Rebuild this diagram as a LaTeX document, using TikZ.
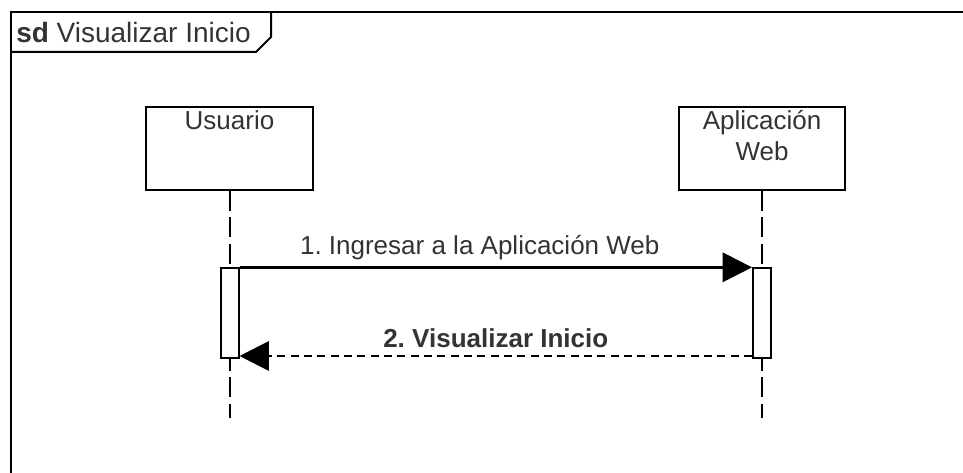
\documentclass[tikz,border=0pt]{standalone}
\usepackage{fontspec}
\setmainfont{Liberation Sans}
\usetikzlibrary{arrows.meta,positioning}

\tikzset{
  frame/.style={line width=1.5pt},
  actor/.style={draw, line width=1.5pt, minimum width=125pt, minimum height=62pt, inner sep=0pt},
  actortext/.style={anchor=north, align=center, inner sep=3pt},
  lifeline/.style={line width=1.5pt, dash pattern=on 15pt off 5pt},
  act/.style={draw, fill=white, line width=1.5pt, minimum width=13.5pt, minimum height=67pt, inner sep=0pt},
  call/.style={line width=1.8pt, -{Triangle[length=22pt,width=22pt]}},
  reply/.style={line width=1.5pt, dash pattern=on 6pt off 4pt, -{Triangle[length=22pt,width=22pt]}}
}

\begin{document}
\frenchspacing
\begin{tikzpicture}[x=0.75pt, y=-0.75pt, font=\fontsize{19.5}{23}\selectfont, text=black!80]
\useasboundingbox (0,0) rectangle (963,473);
% frame
\draw[frame] (11,12) rectangle (995,505);
\draw[frame] (11,52) -- (256,52) -- (271,37) -- (271,12);
\node[anchor=west, inner sep=0pt, font=\fontsize{21}{25}\selectfont] (title) at (16,32) {\textbf{sd} Visualizar Inicio};

% lifelines
\node[actor, label={[actortext]north:Usuario}] (usr) at (229.5,148.5) {};
\node[actor, label={[actortext]north:{Aplicación\\Web}}] (app) at (762,148.5) {};
\coordinate (usrend) at (229.5,418);
\coordinate (append) at (762,418);
\draw[lifeline] (usr.south) -- (usrend);
\draw[lifeline] (app.south) -- (append);
\node[act] (usract) at (229.5,313) {};
\node[act] (appact) at (762,313) {};

% messages
\draw[call] (usract.north east) -- node[above=1pt, xshift=-12pt] (m1) {1. Ingresar a la Aplicación Web} (appact.north west);
\draw[reply] ([yshift=2pt]appact.south west) -- node[above=2pt] (m2) {\textbf{2. Visualizar Inicio}} ([yshift=2pt]usract.south east);
\end{tikzpicture}
\end{document}
